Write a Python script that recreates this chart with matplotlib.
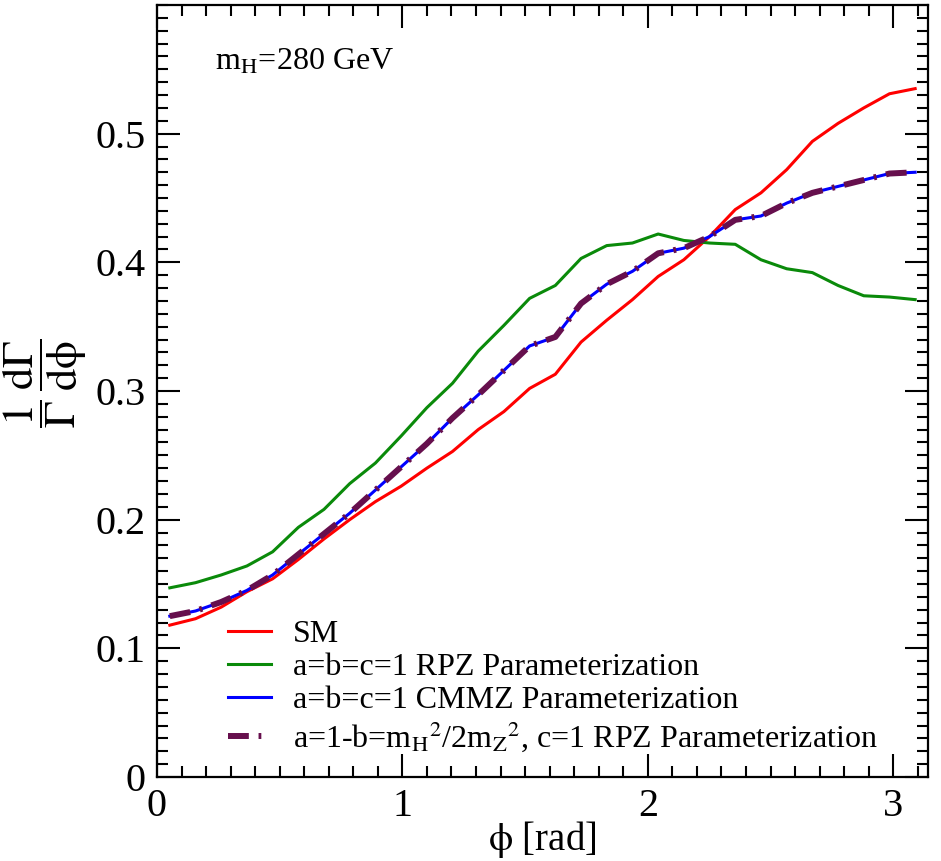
import numpy as np
import matplotlib
matplotlib.use("Agg")
import matplotlib.pyplot as plt
from matplotlib.ticker import MultipleLocator

plt.rcParams['font.family'] = ['Liberation Serif', 'DejaVu Serif']
plt.rcParams['mathtext.fontset'] = 'stix'
plt.rcParams['lines.scale_dashes'] = False

# bin centres, 30 bins over [0, pi]
phi = (np.arange(30) + 0.5) * np.pi / 30

sm = [0.118, 0.123, 0.132, 0.144, 0.154, 0.169, 0.185, 0.200, 0.214, 0.226,
      0.240, 0.253, 0.270, 0.284, 0.302, 0.313, 0.338, 0.355, 0.371, 0.389,
      0.402, 0.420, 0.441, 0.454, 0.472, 0.494, 0.508, 0.520, 0.531, 0.535]
rpz = [0.147, 0.151, 0.157, 0.164, 0.175, 0.194, 0.208, 0.228, 0.244, 0.265,
       0.287, 0.306, 0.331, 0.351, 0.372, 0.382, 0.403, 0.413, 0.415, 0.422,
       0.417, 0.415, 0.414, 0.402, 0.395, 0.392, 0.382, 0.374, 0.373, 0.371]
cmmz = [0.125, 0.129, 0.136, 0.145, 0.157, 0.173, 0.189, 0.205, 0.223, 0.241,
        0.259, 0.279, 0.297, 0.316, 0.335, 0.342, 0.368, 0.383, 0.393, 0.407,
        0.411, 0.420, 0.433, 0.436, 0.446, 0.454, 0.459, 0.464, 0.469, 0.470]
rpz2 = list(cmmz)

fig = plt.figure(figsize=(9.41, 8.61), dpi=100)
ax = fig.add_axes([0.1668, 0.0976, 0.8194, 0.8966])

ax.plot(phi, sm, color='#ff0000', lw=2.2, label='SM')
ax.plot(phi, rpz, color='#0a8a0a', lw=2.2, label='a=b=c=1 RPZ Parameterization')
ax.plot(phi, cmmz, color='#0000ff', lw=2.2, label='a=b=c=1 CMMZ Parameterization')
ax.plot(phi, rpz2, color='#660f4d', lw=4.3, ls=(0, (15, 7, 2, 7)),
        label=r'a=1-b=m$_\mathrm{H}$$^2$/2m$_\mathrm{Z}$$^2$, c=1 RPZ Parameterization')

ax.set_xlim(0, np.pi)
ax.set_ylim(0, 0.6)
ax.xaxis.set_major_locator(MultipleLocator(1))
ax.xaxis.set_minor_locator(MultipleLocator(0.1))
ax.yaxis.set_minor_locator(MultipleLocator(0.01))
ax.set_yticks([0, 0.1, 0.2, 0.3, 0.4, 0.5])
ax.set_yticklabels(['0', '0.1', '0.2', '0.3', '0.4', '0.5'])
ax.tick_params(which='both', direction='in', top=True, right=True, width=1.5, labelsize=29)
ax.tick_params(which='major', length=16.5, pad=8)
ax.tick_params(which='minor', length=8)
for s in ax.spines.values():
    s.set_linewidth(1.6)

ax.set_xlabel(r'$\mathrm{\phi}$ [rad]', fontsize=28)
ax.xaxis.set_label_coords(0.5, -0.054)
ax.set_ylabel(r'$\dfrac{1}{\Gamma}\,\dfrac{\mathrm{d}\Gamma}{\mathrm{d}\mathrm{\phi}}$', fontsize=32)
ax.yaxis.set_label_coords(-0.088, 0.51)

ax.text(0.075, 0.926, r'm$_\mathrm{H}$=280 GeV', transform=ax.transAxes,
        fontsize=23, va='center', ha='left')

ax.legend(loc='lower left', bbox_to_anchor=(0.075, 0.013), frameon=False, fontsize=23,
          handlelength=1.35, handletextpad=0.7, labelspacing=0.12, borderaxespad=0)

fig.savefig('out.png', dpi=100)
